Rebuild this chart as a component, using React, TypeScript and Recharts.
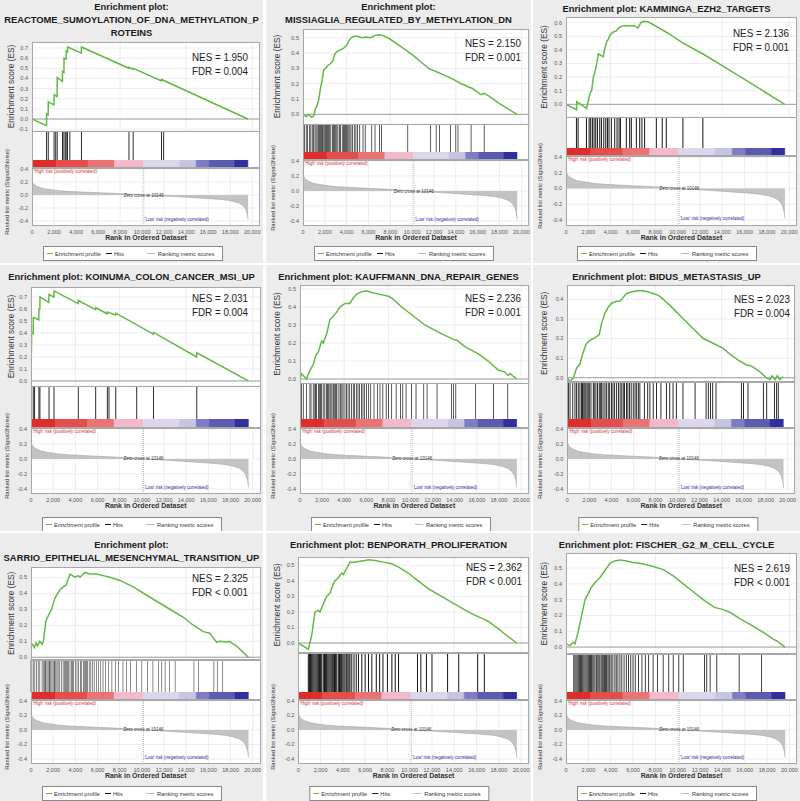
import React from 'react';
import {
  LineChart, Line, AreaChart, Area, BarChart, Bar,
  XAxis, YAxis, CartesianGrid, ReferenceLine, ReferenceDot,
} from 'recharts';

const FONT = '"Liberation Sans", Arial, Helvetica, sans-serif';
const X_MAX = 20700;
const ZERO_CROSS = 10146;
const RANK_TICKS = [0, 2000, 4000, 6000, 8000, 10000, 12000, 14000, 16000, 18000, 20000];
const METRIC_TICKS = [-0.4, -0.2, 0, 0.2, 0.4];
const GREEN = '#63b946';
const GRID = '#e8e8e8';
const PANEL_BG = '#ececec';

// ranked list metric (shared dataset)
const rankedMetric = [
  [0, 0.26], [50, 0.2], [200, 0.16], [500, 0.13], [1000, 0.1], [1600, 0.085], [2500, 0.065],
  [3500, 0.053], [4600, 0.045], [6000, 0.035], [7500, 0.025], [9000, 0.012], [10146, 0],
  [11500, -0.012], [13000, -0.025], [14500, -0.04], [15500, -0.05], [16500, -0.06],
  [17500, -0.075], [18200, -0.095], [18800, -0.125], [19200, -0.17], [19400, -0.22],
  [19550, -0.3], [19620, -0.38],
];

const colorBands: [number, number, string][] = [
  [0, 2200, '#e12c2c'],
  [2200, 5100, '#e54d4d'],
  [5100, 7500, '#ec7373'],
  [7500, 10100, '#f4b8cd'],
  [10100, 13400, '#dcd5ec'],
  [13400, 14900, '#c6c3e3'],
  [14900, 16100, '#7d7dc5'],
  [16100, 18400, '#5b5bb1'],
  [18400, 19600, '#2f2f9d'],
];

// ---------- enrichment score curves [rank, ES] ----------
const esReactome = [
  [0, 0], [1320, -0.065], [1330, 0.05], [1470, 0.04], [1480, 0.17], [2000, 0.14], [2010, 0.24],
  [2280, 0.22], [2290, 0.41], [2760, 0.37], [2770, 0.47], [2900, 0.46], [2910, 0.6], [3100, 0.59],
  [3110, 0.67], [3220, 0.66], [3230, 0.71], [4480, 0.65], [4490, 0.71], [8800, 0.5], [8810, 0.51],
  [9180, 0.49], [9190, 0.5], [11750, 0.375], [11760, 0.39], [19600, 0],
];
const esMissiaglia = [
  [0, 0], [300, -0.015], [500, 0.0], [800, -0.02], [1000, -0.01], [1100, 0.03], [1300, 0.06],
  [1450, 0.1], [1600, 0.17], [1750, 0.22], [1900, 0.29], [2050, 0.3], [2300, 0.32], [2500, 0.33],
  [2750, 0.35], [2900, 0.39], [3100, 0.41], [3400, 0.42], [3700, 0.43], [4000, 0.45], [4200, 0.48],
  [4400, 0.5], [4700, 0.51], [5000, 0.51], [5400, 0.5], [5800, 0.505], [6200, 0.5], [6600, 0.515],
  [7000, 0.52], [7300, 0.515], [8000, 0.49], [9000, 0.44], [10000, 0.39], [11000, 0.33],
  [11500, 0.3], [12500, 0.27], [13600, 0.235], [14500, 0.2], [15000, 0.185], [15200, 0.177],
  [15500, 0.17], [16300, 0.128], [16600, 0.137], [17000, 0.12], [18000, 0.07], [19600, 0],
];
const esKamminga = [
  [0, 0], [950, -0.04], [960, 0.02], [1850, -0.03], [2000, 0.03], [2150, 0.08], [2300, 0.1],
  [2450, 0.2], [2600, 0.24], [2750, 0.3], [2900, 0.37], [3340, 0.35], [3450, 0.4], [3640, 0.46],
  [3800, 0.48], [3950, 0.51], [4200, 0.53], [4500, 0.54], [4700, 0.56], [5000, 0.575],
  [5300, 0.58], [5700, 0.575], [6100, 0.58], [6450, 0.56], [6700, 0.6], [7000, 0.61],
  [7400, 0.605], [9000, 0.53], [10500, 0.45], [12280, 0.37], [14000, 0.285], [19600, 0],
];
const esKoinuma = [
  [0, 0], [60, 0.4], [200, 0.395], [210, 0.53], [700, 0.51], [720, 0.6], [800, 0.6], [810, 0.7],
  [1600, 0.655], [1630, 0.72], [2060, 0.7], [2080, 0.75], [4250, 0.645], [4270, 0.67],
  [5820, 0.595], [5840, 0.61], [6870, 0.56], [6890, 0.575], [7630, 0.55], [7650, 0.565],
  [11030, 0.39], [11050, 0.405], [14940, 0.2], [14960, 0.235], [19600, 0],
];
const esKauffmann = [
  [0, 0], [150, 0.03], [300, 0.02], [600, 0.0], [900, 0.05], [1200, 0.08], [1420, 0.13],
  [1660, 0.15], [1960, 0.21], [2100, 0.2], [2410, 0.25], [2710, 0.33], [3015, 0.35], [3300, 0.37],
  [3620, 0.4], [4070, 0.42], [4500, 0.42], [4820, 0.45], [5100, 0.47], [5580, 0.485],
  [6030, 0.49], [6500, 0.48], [7240, 0.47], [7990, 0.46], [8290, 0.45], [9200, 0.4],
  [10250, 0.35], [11300, 0.3], [12510, 0.26], [13870, 0.22], [14200, 0.215], [14920, 0.18],
  [16130, 0.14], [17030, 0.1], [17940, 0.05], [18500, 0.04], [18840, 0.02], [19000, 0.03],
  [19600, 0],
];
const esBidus = [
  [0, 0], [240, -0.02], [550, 0.0], [850, 0.05], [1150, 0.07], [1390, 0.12], [1690, 0.17],
  [2000, 0.19], [2360, 0.2], [2650, 0.21], [2900, 0.22], [3120, 0.28], [3420, 0.33],
  [3720, 0.36], [4020, 0.38], [4480, 0.39], [4780, 0.39], [5080, 0.41], [5380, 0.43],
  [5990, 0.44], [6590, 0.445], [7200, 0.44], [7800, 0.43], [8260, 0.42], [8710, 0.4],
  [9470, 0.36], [10530, 0.3], [11430, 0.25], [12340, 0.2], [13100, 0.18], [14160, 0.15],
  [14760, 0.12], [15520, 0.09], [16270, 0.065], [16700, 0.06], [17480, 0.03], [18090, 0.0],
  [18400, -0.01], [18600, 0.01], [18850, -0.01], [19060, 0.01], [19280, -0.01], [19600, 0.005],
];
const esSarrio = [
  [0, 0.07], [150, 0.08], [300, 0.06], [450, 0.09], [600, 0.07], [800, 0.1], [1000, 0.08],
  [1110, 0.1], [1350, 0.23], [1710, 0.28], [1860, 0.3], [2160, 0.37], [2600, 0.42], [2900, 0.44],
  [3150, 0.45], [3520, 0.52], [3970, 0.5], [4270, 0.51], [4420, 0.5], [4720, 0.52], [4870, 0.53],
  [5320, 0.52], [5920, 0.52], [6520, 0.51], [7120, 0.5], [8030, 0.48], [9230, 0.44],
  [10130, 0.4], [11330, 0.35], [12530, 0.3], [13740, 0.25], [14640, 0.2], [15540, 0.16],
  [16140, 0.15], [16440, 0.12], [16740, 0.095], [17040, 0.1], [17640, 0.095], [17880, 0.1],
  [18550, 0.07], [19000, 0.04], [19600, 0],
];
const esBenporath = [
  [0, 0], [900, -0.04], [1200, 0.05], [1500, 0.2], [1800, 0.21], [1950, 0.2], [2240, 0.25],
  [2540, 0.3], [2840, 0.32], [3140, 0.38], [3290, 0.4], [3590, 0.42], [3890, 0.45], [4040, 0.44],
  [4340, 0.48], [4640, 0.52], [5090, 0.52], [5530, 0.525], [5980, 0.53], [6280, 0.535],
  [6880, 0.53], [7620, 0.52], [8370, 0.51], [8970, 0.49], [9870, 0.45], [10760, 0.4],
  [11660, 0.35], [12860, 0.3], [14050, 0.25], [15250, 0.2], [16140, 0.17], [16740, 0.15],
  [17040, 0.14], [17790, 0.1], [18690, 0.05], [19600, 0],
];
const esFischer = [
  [0, 0.02], [360, 0.01], [660, 0.03], [800, 0.02], [1100, 0.1], [1400, 0.2], [1700, 0.3],
  [2000, 0.34], [2290, 0.38], [2740, 0.42], [3040, 0.44], [3340, 0.47], [3640, 0.5],
  [3930, 0.53], [4380, 0.545], [4830, 0.55], [5420, 0.545], [6020, 0.535], [6620, 0.53],
  [7210, 0.52], [7810, 0.51], [8700, 0.49], [9600, 0.45], [10490, 0.4], [11380, 0.35],
  [12280, 0.3], [13320, 0.25], [13920, 0.24], [14660, 0.22], [15560, 0.18], [16300, 0.15],
  [17050, 0.12], [17940, 0.08], [18540, 0.05], [18840, 0.04], [19600, 0],
];

// ---------- hit positions (ranks) ----------
const hitsReactome = [1330, 1480, 2010, 2160, 2290, 2770, 2900, 3020, 3110, 3230, 3440, 4490, 8810, 9190, 11760, 11960];
const hitsMissiaglia = [150, 300, 420, 600, 720, 850, 950, 1100, 1200, 1300, 1420, 1500, 1600, 1700, 1780, 1850, 1950, 2050, 2150, 2250, 2350, 2450, 2550, 2700, 2800, 2900, 3000, 3100, 3200, 3350, 3450, 3600, 3700, 3800, 3900, 4000, 4100, 4200, 4300, 4400, 4550, 4700, 4850, 5000, 5200, 5500, 5700, 6300, 6600, 7000, 7200, 9600, 11700, 12200, 12500, 13500, 14000, 14200, 15400, 16600];
const hitsKamminga = [950, 1100, 1850, 2090, 2230, 2380, 2530, 2680, 2830, 3040, 3190, 3400, 3580, 3730, 3870, 4080, 4380, 4590, 4770, 4890, 5420, 5720, 5870, 6320, 6620, 6820, 7060, 8110, 8640, 9000, 10490, 12280];
const hitsKoinuma = [60, 210, 330, 720, 810, 1630, 2080, 4270, 5840, 6890, 7040, 7650, 9540, 11050, 14960];
const hitsKauffmann = [150, 300, 600, 900, 1000, 1200, 1350, 1420, 1500, 1660, 1750, 1850, 1960, 2100, 2250, 2410, 2500, 2600, 2710, 2800, 2900, 3015, 3100, 3200, 3300, 3450, 3620, 3700, 3800, 3900, 4070, 4200, 4350, 4500, 4650, 4820, 4950, 5100, 5250, 5400, 5580, 5700, 5850, 6030, 6200, 6400, 6700, 7000, 7240, 7500, 7800, 8000, 8300, 8700, 9100, 9300, 9600, 10100, 10500, 11200, 11500, 12400, 13700, 13900, 14100, 15900, 17500, 18800];
const hitsBidus = [100, 250, 500, 700, 850, 1000, 1150, 1300, 1390, 1500, 1600, 1690, 1800, 1900, 2000, 2150, 2360, 2450, 2600, 2750, 2900, 3000, 3120, 3250, 3420, 3550, 3720, 3850, 4020, 4150, 4300, 4480, 4650, 4800, 4950, 5080, 5200, 5380, 5500, 5650, 5800, 5990, 6150, 6300, 6450, 6590, 7000, 7300, 7500, 7800, 8100, 8500, 9000, 9300, 9600, 9900, 10500, 11600, 12600, 12800, 13000, 13200, 13500, 15800, 16000, 16400, 17800, 18100, 18800, 19000, 19150];
const hitsSarrio = [0, 80, 200, 350, 500, 650, 800, 1000, 1100, 1200, 1300, 1350, 1450, 1550, 1650, 1710, 1800, 1900, 2000, 2100, 2160, 2250, 2350, 2450, 2600, 2750, 2900, 3000, 3100, 3200, 3300, 3400, 3520, 3650, 3750, 3850, 4000, 4150, 4300, 4450, 4550, 4720, 4800, 4900, 5000, 5100, 5250, 5400, 5550, 5700, 5900, 6100, 6300, 6500, 6700, 7000, 7300, 7600, 7900, 8300, 8600, 9000, 9500, 10000, 10500, 11000, 11500, 11800, 12100, 12500, 13000, 14700, 15100, 16500, 16800, 17300];
const hitsBenporath = [900, 1000, 1100, 1200, 1300, 1400, 1500, 1600, 1700, 1800, 1900, 2000, 2100, 2240, 2350, 2450, 2540, 2650, 2750, 2850, 2950, 3050, 3140, 3250, 3350, 3450, 3590, 3700, 3800, 3890, 4000, 4100, 4200, 4340, 4450, 4550, 4640, 4800, 5000, 5200, 5400, 5700, 6000, 6300, 6600, 7000, 7300, 7600, 8000, 8400, 8700, 9000, 10700, 11000, 11500, 12000, 13400, 14400, 16100, 16700];
const hitsFischer = [700, 800, 900, 1000, 1100, 1200, 1300, 1400, 1500, 1600, 1700, 1800, 1900, 2000, 2100, 2200, 2290, 2400, 2500, 2600, 2740, 2850, 2950, 3040, 3150, 3250, 3340, 3450, 3550, 3640, 3750, 3850, 3930, 4050, 4200, 4380, 4500, 4650, 4830, 5000, 5200, 5400, 5600, 5800, 6000, 6200, 6500, 6800, 7100, 7400, 7800, 8200, 8700, 9200, 9600, 10100, 10500, 12400, 12600, 12900, 13500, 15500, 17500];

const titles = [
  ['Enrichment plot:', 'REACTOME_SUMOYLATION_OF_DNA_METHYLATION_P', 'ROTEINS'],
  ['Enrichment plot:', 'MISSIAGLIA_REGULATED_BY_METHYLATION_DN'],
  ['Enrichment plot: KAMMINGA_EZH2_TARGETS'],
  ['Enrichment plot: KOINUMA_COLON_CANCER_MSI_UP'],
  ['Enrichment plot: KAUFFMANN_DNA_REPAIR_GENES'],
  ['Enrichment plot: BIDUS_METASTASIS_UP'],
  ['Enrichment plot:', 'SARRIO_EPITHELIAL_MESENCHYMAL_TRANSITION_UP'],
  ['Enrichment plot: BENPORATH_PROLIFERATION'],
  ['Enrichment plot: FISCHER_G2_M_CELL_CYCLE'],
];
const nesValues = ['1.950', '2.150', '2.136', '2.031', '2.236', '2.023', '2.325', '2.362', '2.619'];
const fdrValues = ['= 0.004', '= 0.001', '= 0.001', '= 0.004', '= 0.001', '= 0.004', '< 0.001', '< 0.001', '< 0.001'];
const esSeries = [esReactome, esMissiaglia, esKamminga, esKoinuma, esKauffmann, esBidus, esSarrio, esBenporath, esFischer];
const hitSeries = [hitsReactome, hitsMissiaglia, hitsKamminga, hitsKoinuma, hitsKauffmann, hitsBidus, hitsSarrio, hitsBenporath, hitsFischer];

const t = (a: number, b: number) => {
  const r: number[] = [];
  for (let v = a; v <= b + 1e-9; v += 0.1) r.push(Math.round(v * 10) / 10);
  return r;
};

// layout (pixels, panel-local)
const layouts = [
  { px: 0, py: 0, w: 263, h: 263, left: 32, right: 260, titleY: [7, 20, 33], esTop: 42, esBot: 131, esDom: [-0.118, 0.759], esTicks: t(-0.1, 0.7), hitsBot: 160, barBot: 168, rankBot: 226, rankDom: [-0.477, 0.415], nesY: 57, nesRight: 248, legendY: 246 },
  { px: 266, py: 0, w: 265, h: 263, left: 37, right: 263, titleY: [7, 20], esTop: 29, esBot: 124, esDom: [-0.063, 0.557], esTicks: t(0, 0.5), hitsBot: 152, barBot: 160, rankBot: 226, rankDom: [-0.467, 0.413], nesY: 43, nesRight: 255, legendY: 246 },
  { px: 533, py: 0, w: 267, h: 263, left: 33, right: 264, titleY: [9], esTop: 17, esBot: 117, esDom: [-0.093, 0.642], esTicks: t(0, 0.6), hitsBot: 148, barBot: 156, rankBot: 226, rankDom: [-0.476, 0.413], nesY: 33, nesRight: 256, legendY: 246 },
  { px: 0, py: 265, w: 263, h: 266, left: 31, right: 260.5, titleY: [12], esTop: 22, esBot: 121, esDom: [-0.042, 0.783], esTicks: t(0, 0.7), hitsBot: 154, barBot: 163, rankBot: 229, rankDom: [-0.466, 0.41], nesY: 33, nesRight: 248, legendY: 252 },
  { px: 266, py: 265, w: 265, h: 266, left: 34, right: 262.8, titleY: [12], esTop: 20, esBot: 118, esDom: [-0.022, 0.522], esTicks: t(0, 0.5), hitsBot: 154, barBot: 163, rankBot: 229, rankDom: [-0.466, 0.41], nesY: 33, nesRight: 255, legendY: 252 },
  { px: 533, py: 265, w: 267, h: 266, left: 34.3, right: 262.4, titleY: [12], esTop: 20, esBot: 116.7, esDom: [-0.02, 0.473], esTicks: t(0, 0.4), hitsBot: 154, barBot: 163, rankBot: 229, rankDom: [-0.466, 0.41], nesY: 34, nesRight: 257, legendY: 252 },
  { px: 0, py: 533, w: 263, h: 268, left: 31, right: 260.5, titleY: [12, 25], esTop: 33.7, esBot: 127, esDom: [-0.019, 0.564], esTicks: t(0, 0.5), hitsBot: 159, barBot: 167, rankBot: 231, rankDom: [-0.468, 0.41], nesY: 45, nesRight: 248, legendY: 253 },
  { px: 266, py: 533, w: 265, h: 268, left: 32.3, right: 262.9, titleY: [12], esTop: 23.7, esBot: 120, esDom: [-0.066, 0.553], esTicks: t(0, 0.5), hitsBot: 159, barBot: 167, rankBot: 231, rankDom: [-0.468, 0.41], nesY: 34, nesRight: 256, legendY: 253 },
  { px: 533, py: 533, w: 267, h: 268, left: 33, right: 264.3, titleY: [12], esTop: 20.3, esBot: 121, esDom: [-0.042, 0.595], esTicks: t(0, 0.5), hitsBot: 159, barBot: 167, rankBot: 231, rankDom: [-0.468, 0.41], nesY: 35, nesRight: 257, legendY: 253 },
];

const toPts = (a: number[][]) => a.map(([x, y]) => ({ x, y }));
const f1 = (v: number) => (Math.abs(v) < 1e-9 ? '0.0' : v.toFixed(1));
const fk = (v: number) => v.toLocaleString('en-US');
const bandRow = [Object.fromEntries([['k', 'bar'], ...colorBands.map(([a, b], i) => [`b${i}`, b - a])])];

function Panel({ L, title, es, hits, nes, fdr }: any) {
  const W = L.w;
  const YW = 16;
  const PAD = 4;
  const mr = W - L.right;
  const ml = L.left - YW;
  const AXH = 9;
  const esData = toPts(es);
  const hitData = hits.map((h: number) => ({ x: h, v: 1 }));
  const rk = toPts(rankedMetric);
  const pw = L.right - L.left;
  const tickStyle = { fontSize: 5.5, fill: '#555', fontFamily: FONT };
  const box = (top: number, bot: number) => ({
    position: 'absolute' as const, left: L.left, top, width: pw, height: bot - top,
    border: '1px solid #a8a8a8', boxSizing: 'border-box' as const, pointerEvents: 'none' as const,
  });
  return (
    <div style={{ position: 'absolute', left: L.px, top: L.py, width: W, height: L.h, background: PANEL_BG, fontFamily: FONT, overflow: 'hidden' }}>
      {title.map((s: string, i: number) => (
        <div key={i} style={{ position: 'absolute', left: 0, width: W, top: L.titleY[i] - 6, height: 12, lineHeight: '12px', textAlign: 'center', fontWeight: 700, fontSize: 9.4, color: '#1a1a1a', whiteSpace: 'nowrap' }}>{s}</div>
      ))}
      <div style={{ position: 'absolute', left: L.left, top: L.esTop, width: pw, height: L.rankBot - L.esTop, background: '#fff' }} />
      <div style={{ position: 'absolute', left: 0, top: L.esTop - PAD }}>
        <LineChart width={W} height={L.esBot - L.esTop + 2 * PAD} data={esData} margin={{ top: PAD, right: mr, bottom: PAD, left: ml }}>
          <CartesianGrid stroke={GRID} strokeWidth={0.8} />
          <XAxis type="number" dataKey="x" domain={[0, X_MAX]} ticks={RANK_TICKS} hide allowDataOverflow />
          <YAxis type="number" domain={L.esDom} ticks={L.esTicks} width={YW} tickSize={2} tickLine={false} axisLine={false} tick={tickStyle} tickFormatter={f1} interval={0} allowDataOverflow />
          <ReferenceLine y={0} stroke="#8c8c8c" strokeWidth={0.8} />
          <Line type="linear" dataKey="y" stroke={GREEN} strokeWidth={1.5} dot={false} isAnimationActive={false} />
        </LineChart>
      </div>
      <div style={{ position: 'absolute', left: 0, top: L.esBot }}>
        <BarChart width={W} height={L.hitsBot - L.esBot} data={hitData} margin={{ top: 0, right: mr, bottom: 0, left: L.left }} barSize={1}>
          <XAxis type="number" dataKey="x" domain={[0, X_MAX]} hide />
          <YAxis hide domain={[0, 1]} />
          <Bar dataKey="v" fill="#151515" isAnimationActive={false} />
        </BarChart>
      </div>
      <div style={{ position: 'absolute', left: 0, top: L.hitsBot }}>
        <BarChart layout="vertical" width={W} height={L.barBot - L.hitsBot} data={bandRow} margin={{ top: 0, right: mr, bottom: 0, left: L.left }} barCategoryGap={0} barGap={0}>
          <XAxis type="number" domain={[0, X_MAX]} hide allowDataOverflow />
          <YAxis type="category" dataKey="k" hide />
          {colorBands.map(([a, , c], i) => (
            <Bar key={a} dataKey={`b${i}`} stackId="s" fill={c} stroke={c} strokeWidth={0.6} isAnimationActive={false} />
          ))}
        </BarChart>
      </div>
      <div style={{ position: 'absolute', left: 0, top: L.barBot - PAD }}>
        <AreaChart width={W} height={L.rankBot - L.barBot + AXH + PAD} data={rk} margin={{ top: PAD, right: mr, bottom: 0, left: ml }}>
          <CartesianGrid stroke={GRID} strokeWidth={0.8} />
          <XAxis type="number" dataKey="x" domain={[0, X_MAX]} ticks={RANK_TICKS} height={AXH} tickSize={2} tickLine={false} axisLine={false} tick={tickStyle} tickFormatter={fk} interval={0} />
          <YAxis type="number" domain={L.rankDom} ticks={METRIC_TICKS} width={YW} tickSize={2} tickLine={false} axisLine={false} tick={tickStyle} tickFormatter={f1} interval={0} allowDataOverflow />
          <Area type="linear" dataKey="y" stroke="#a5a5a5" strokeWidth={0.6} fill="#c3c3c3" fillOpacity={1} isAnimationActive={false} />
          <ReferenceLine x={ZERO_CROSS} stroke="#9a9a9a" strokeWidth={0.7} strokeDasharray="1 1" />
          <ReferenceDot x={150} y={0.37} r={0} fill="none" stroke="none" label={{ value: "'High' risk (positively correlated)", position: 'right', offset: 0, fontSize: 4.5, fill: '#d83030' }} />
          <ReferenceDot x={ZERO_CROSS} y={0} r={0} fill="none" stroke="none" label={{ value: 'Zero cross at 10146', position: 'center', fontSize: 4.5, fill: '#333' }} />
          <ReferenceDot x={ZERO_CROSS} y={-0.38} r={0} fill="none" stroke="none" label={{ value: "'Low' risk (negatively correlated)", position: 'right', offset: 1, fontSize: 4.5, fill: '#2c2c9c' }} />
        </AreaChart>
      </div>
      <div style={box(L.esTop, L.esBot + 0.5)} />
      <div style={box(L.esBot, L.barBot)} />
      <div style={box(L.barBot, L.rankBot)} />
      <svg width={W} height={L.h} style={{ position: 'absolute', left: 0, top: 0, pointerEvents: 'none' }}>
        <text transform={`translate(10.5, ${(L.esTop + L.esBot) / 2}) rotate(-90)`} textAnchor="middle" dominantBaseline="central" fontSize={8.3} fill="#333" fontFamily={FONT}>Enrichment score (ES)</text>
        <text transform={`translate(7, ${(L.barBot + L.rankBot) / 2 - 5}) rotate(-90)`} textAnchor="middle" dominantBaseline="central" fontSize={5.8} fill="#333" fontFamily={FONT}>Ranked list metric (Signal2Noise)</text>
        <text x={(L.left + L.right) / 2} y={L.rankBot + 14} textAnchor="middle" fontSize={7} fontWeight={700} fill="#333" fontFamily={FONT}>Rank in Ordered Dataset</text>
        <text x={L.nesRight} y={L.nesY} textAnchor="end" dominantBaseline="central" fontSize={11.2} fill="#222" fontFamily={FONT} textLength={56} lengthAdjust="spacingAndGlyphs">{`NES = ${nes}`}</text>
        <text x={L.nesRight} y={L.nesY + 14} textAnchor="end" dominantBaseline="central" fontSize={11.2} fill="#222" fontFamily={FONT} textLength={56} lengthAdjust="spacingAndGlyphs">{`FDR ${fdr}`}</text>
        <g transform={`translate(${L.left + 11}, ${L.legendY})`}>
          <rect x={0.5} y={0.5} width={179} height={14} fill="#fff" stroke="#888" strokeWidth={1} />
          <line x1={4} x2={10} y1={7.5} y2={7.5} stroke={GREEN} strokeWidth={1} />
          <text x={12} y={7.5} dominantBaseline="central" fontSize={5.7} fill="#333" fontFamily={FONT}>Enrichment profile</text>
          <line x1={63} x2={69} y1={7.5} y2={7.5} stroke="#111" strokeWidth={1} />
          <text x={71} y={7.5} dominantBaseline="central" fontSize={5.7} fill="#333" fontFamily={FONT}>Hits</text>
          <line x1={104} x2={112} y1={7.5} y2={7.5} stroke="#bbb" strokeWidth={1} />
          <text x={115} y={7.5} dominantBaseline="central" fontSize={5.7} fill="#333" fontFamily={FONT}>Ranking metric scores</text>
        </g>
      </svg>
    </div>
  );
}

export default function App() {
  return (
    <div style={{ position: 'absolute', left: 0, top: 0, width: 800, height: 801, background: '#fff', overflow: 'hidden' }}>
      {layouts.map((L, i) => (
        <Panel key={i} L={L} title={titles[i]} es={esSeries[i]} hits={hitSeries[i]} nes={nesValues[i]} fdr={fdrValues[i]} />
      ))}
    </div>
  );
}
